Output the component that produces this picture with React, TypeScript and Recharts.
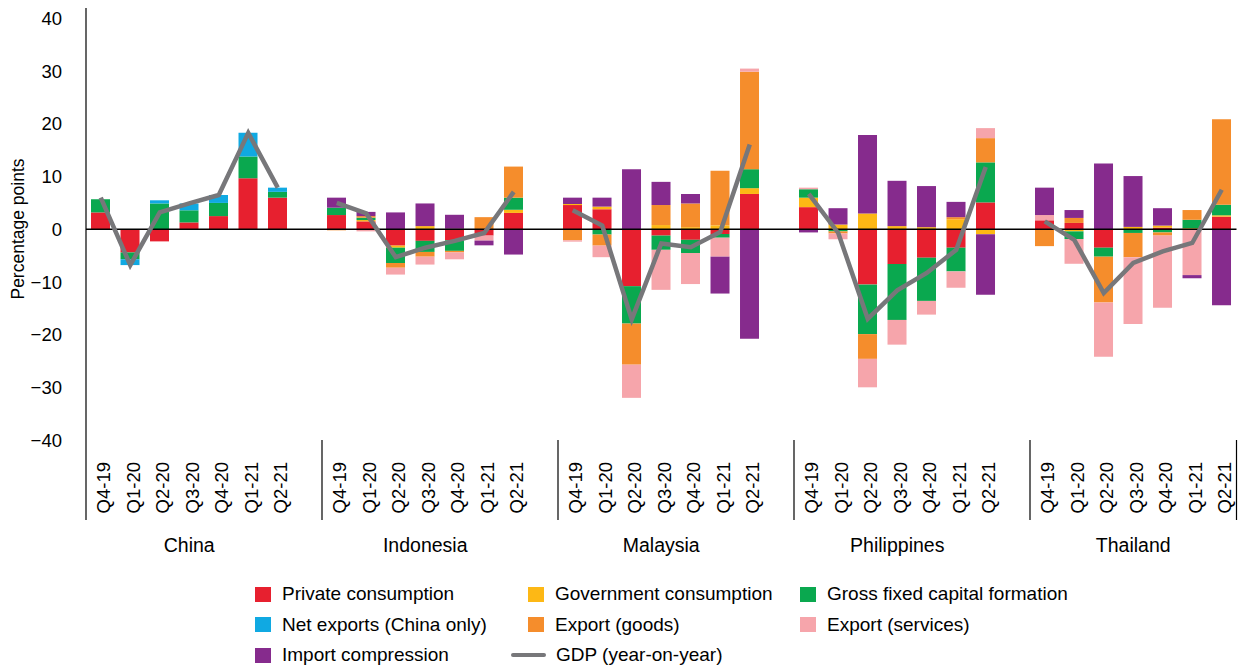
import React from 'react';
import { ComposedChart, Bar, Line, XAxis, YAxis, ReferenceLine } from 'recharts';

const countries = ['China', 'Indonesia', 'Malaysia', 'Philippines', 'Thailand'];
const quarters = ['Q4-19', 'Q1-20', 'Q2-20', 'Q3-20', 'Q4-20', 'Q1-21', 'Q2-21'];

// contributions in percentage points, 7 quarters per country (China, Indonesia, Malaysia, Philippines, Thailand)
const privateConsumption = [
  3.2, -4.4, -2.3, 1.3, 2.5, 9.7, 6.0,
  2.7, 1.5, -3.1, -2.2, -2.1, -1.2, 3.1,
  4.6, 3.8, -10.8, -1.2, -2.0, -0.9, 6.7,
  4.2, 0, -10.5, -6.6, -5.4, -3.5, 5.1,
  1.7, 1.2, -3.5, -0.1, 0.3, 0, 2.4,
];
const govConsumption = [
  0, 0, 0, 0, 0, 0, 0,
  0, 0.25, -0.4, 0.6, 0.1, 0, 0.6,
  0.2, 0.5, 0, 0.8, 0.4, 0.75, 1.1,
  1.8, 0.9, 3.0, 0.6, 0.4, 1.9, -0.95,
  0, -0.4, 0, 0.45, 0.4, 0.2, 0.25,
];
const gfcf = [
  2.5, -1.3, 4.9, 2.3, 2.5, 4.1, 1.1,
  1.4, 0.45, -2.9, -2.1, -2.0, 0, 2.3,
  0, -1.0, -7.1, -2.7, -2.5, -0.7, 3.6,
  1.6, -0.4, -9.4, -10.6, -8.2, -4.5, 7.6,
  0, -1.45, -1.7, -0.6, -0.6, 1.6, 2.0,
];
const netExports = [
  0, -1.1, 0.6, 1.3, 1.5, 4.5, 0.8,
  0, 0, 0, 0, 0, 0, 0,
  0, 0, 0, 0, 0, 0, 0,
  0, 0, 0, 0, 0, 0, 0,
  0, 0, 0, 0, 0, 0, 0,
];
const exportGoods = [
  0, 0, 0, 0, 0, 0, 0,
  -0.2, 0.3, -0.9, -0.9, -0.3, 2.3, 5.9,
  -2.1, -2.1, -7.8, 3.8, 4.5, 10.35, 18.5,
  0, -0.4, -4.7, 0, 0, 0.4, 4.6,
  -3.2, 0.95, -8.7, -4.6, -0.6, 1.85, 16.25,
];
const exportServices = [
  0, 0, 0, 0, 0, 0, 0,
  0, -0.4, -1.3, -1.5, -1.3, -0.95, 0,
  -0.25, -2.2, -6.3, -7.6, -5.9, -3.6, 0.6,
  0.3, -1.1, -5.4, -4.7, -2.6, -3.1, 1.9,
  1.0, -4.7, -10.3, -12.7, -13.7, -8.7, 0,
];
const importCompression = [
  0, 0, 0, 0, 0, 0, 0,
  1.9, 0.8, 3.2, 4.3, 2.65, -0.9, -4.8,
  1.2, 1.7, 11.4, 4.4, 1.8, -7.0, -20.8,
  -0.6, 3.1, 14.9, 8.6, 7.8, 2.9, -11.5,
  5.2, 1.5, 12.5, 9.65, 3.3, -0.6, -14.4,
];
const gdp = [
  6.0, -6.8, 3.2, 4.9, 6.5, 18.3, 7.9,
  5.0, 3.0, -5.3, -3.5, -2.2, -0.7, 7.1,
  3.6, 0.7, -17.1, -2.7, -3.4, -0.5, 16.1,
  6.7, -0.7, -17.0, -11.6, -8.3, -3.9, 11.8,
  1.5, -2.0, -12.1, -6.4, -4.2, -2.6, 7.5,
];
const yTicks = [-40, -30, -20, -10, 0, 10, 20, 30, 40];

const series = [
  { key: 'priv', name: 'Private consumption', color: '#E7202F', values: privateConsumption },
  { key: 'gov', name: 'Government consumption', color: '#FDB815', values: govConsumption },
  { key: 'gfcf', name: 'Gross fixed capital formation', color: '#0AA84F', values: gfcf },
  { key: 'net', name: 'Net exports (China only)', color: '#10A9E2', values: netExports },
  { key: 'goods', name: 'Export (goods)', color: '#F58D2C', values: exportGoods },
  { key: 'services', name: 'Export (services)', color: '#F6A5AB', values: exportServices },
  { key: 'imports', name: 'Import compression', color: '#862B8D', values: importCompression },
];
const GDP_COLOR = '#77777A';

// one row per quarter, with an empty slot between countries
const rows: any[] = [];
countries.forEach((country, ci) => {
  quarters.forEach((quarter, qi) => {
    const i = ci * quarters.length + qi;
    const row: any = { key: `${country}-${quarter}`, quarter, country, pos: qi, gdp: gdp[i] };
    series.forEach((s) => {
      row[s.key] = s.values[i];
    });
    rows.push(row);
  });
  if (ci < countries.length - 1) {
    rows.push({ key: `gap-${ci}`, quarter: '', country: '', pos: -1, gdp: null });
  }
});
const rowByKey: Record<string, any> = {};
rows.forEach((r, i) => {
  rowByKey[r.key] = { ...r, idx: i };
});

const FONT = '"Liberation Sans", Arial, sans-serif';
const W = 1239;
const CHART_H = 560;
const Y_AXIS_W = 86;
const RIGHT = 2.5;
const TOP = 8;
const X_AXIS_H = 120;
const PLOT_BOTTOM = CHART_H - X_AXIS_H;
const SLOT = (W - Y_AXIS_W - RIGHT) / rows.length;

const QuarterTick = (props: any) => {
  const { x, payload } = props;
  const row = rowByKey[payload.value];
  if (!row) return null;
  const half = SLOT / 2;
  const last = row.idx === rows.length - 1;
  return (
    <g>
      {row.pos === 0 && (
        <line x1={x - half} x2={x - half} y1={PLOT_BOTTOM} y2={PLOT_BOTTOM + 80} stroke="#000" strokeWidth={1.2} />
      )}
      {last && (
        <line x1={x + half} x2={x + half} y1={PLOT_BOTTOM} y2={PLOT_BOTTOM + 80} stroke="#000" strokeWidth={1.2} />
      )}
      {row.quarter && (
        <text
          transform={`translate(${x + 9.5},${PLOT_BOTTOM + 22}) rotate(-90)`}
          textAnchor="end"
          fontSize={18.5}
          fontFamily={FONT}
          fill="#000"
        >
          {row.quarter}
        </text>
      )}
      {row.pos === 3 && (
        <text x={x} y={PLOT_BOTTOM + 112} textAnchor="middle" fontSize={19.5} fontFamily={FONT} fill="#000">
          {row.country}
        </text>
      )}
    </g>
  );
};

const YLabel = () => (
  <text transform="translate(24,229) rotate(-90)" textAnchor="middle" fontSize={17.5} fontFamily={FONT} fill="#000">
    Percentage points
  </text>
);

const legendItems = [
  [series[0], series[1], series[2]],
  [series[3], series[4], series[5]],
  [series[6], { key: 'gdp', name: 'GDP (year-on-year)', color: GDP_COLOR, line: true }],
];
const colX = [255, 528, 800];

const App = () => {
  return (
    <div style={{ position: 'absolute', left: 0, top: 0, width: W, height: 668, background: '#fff', fontFamily: FONT }}>
      <ComposedChart
        width={W}
        height={CHART_H}
        data={rows}
        stackOffset="sign"
        barCategoryGap="17%"
        margin={{ top: TOP, right: RIGHT, left: 0, bottom: 0 }}
      >
        <XAxis
          dataKey="key"
          interval={0}
          height={X_AXIS_H}
          axisLine={false}
          tickLine={false}
          tick={<QuarterTick />}
        />
        <YAxis
          width={Y_AXIS_W}
          domain={[-40, 42]}
          ticks={yTicks}
          allowDataOverflow
          tickLine={false}
          tickMargin={18}
          axisLine={{ stroke: '#000', strokeWidth: 1.2 }}
          tick={{ fontSize: 18.5, fontFamily: FONT, fill: '#000' }}
          tickFormatter={(v: number) => (v < 0 ? `\u2212${Math.abs(v)}` : `${v}`)}
          label={<YLabel />}
        />
        {series.map((s) => (
          <Bar key={s.key} dataKey={s.key} name={s.name} stackId="a" fill={s.color} isAnimationActive={false} />
        ))}
        <ReferenceLine y={0} stroke="#000" strokeWidth={1.5} />
        <Line
          dataKey="gdp"
          name="GDP (year-on-year)"
          stroke={GDP_COLOR}
          strokeWidth={4.5}
          dot={false}
          activeDot={false}
          connectNulls={false}
          isAnimationActive={false}
        />
      </ComposedChart>
      {legendItems.map((row, ri) =>
        row.map((item: any, ci) => (
          <div
            key={item.key}
            style={{
              position: 'absolute',
              left: item.line ? colX[ci] - 17 : colX[ci],
              top: 585 + ri * 30.5,
              height: 18,
              display: 'flex',
              alignItems: 'center',
              fontSize: 19,
              color: '#000',
              whiteSpace: 'nowrap',
            }}
          >
            {item.line ? (
              <span style={{ display: 'inline-block', width: 35, height: 4, background: item.color, borderRadius: 2, marginRight: 10 }} />
            ) : (
              <span style={{ display: 'inline-block', width: 16, height: 15, background: item.color, marginRight: 11 }} />
            )}
            <span>{item.name}</span>
          </div>
        ))
      )}
    </div>
  );
};

export default App;
